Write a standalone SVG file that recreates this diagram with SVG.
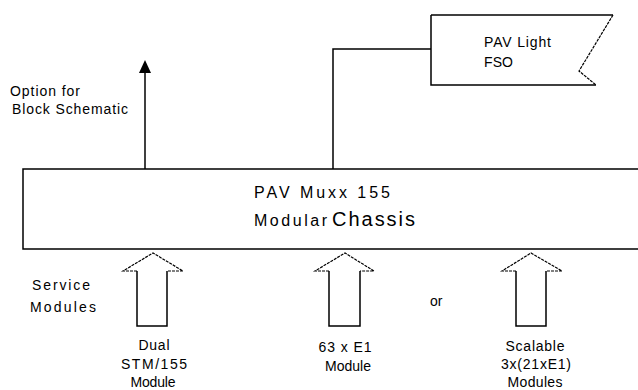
<svg xmlns="http://www.w3.org/2000/svg" width="638" height="390" viewBox="0 0 638 390">
<style>
.ln{fill:none;stroke:#000;stroke-width:1.5}
.hd{fill:none;stroke:#000;stroke-width:1.2;stroke-dasharray:3 1}
text{font-family:"Liberation Sans",Arial,sans-serif;fill:#000}
.s{font-size:14px}
.m{font-size:16px}
</style>
<rect width="638" height="390" fill="#fff"/>
<g id="connectors">
<path class="ln" d="M145,169 V70"/>
<path d="M145,60 L151,73 L139,73 Z" fill="#000"/>
<path class="ln" d="M333,169 V49 H431"/>
</g>
<g id="chassis">
<path class="ln" d="M640,169 H23 V249 H640"/>
<text class="m" x="254" y="198" textLength="136" lengthAdjust="spacing">PAV Muxx 155</text>
<text class="m" x="254" y="226" textLength="73" lengthAdjust="spacing">Modular</text>
<text x="332" y="226" font-size="20" textLength="83" lengthAdjust="spacing">Chassis</text>
</g>
<g id="fso">
<path class="ln" d="M431,15 H613"/>
<path class="hd" d="M613,15 L579,71 L596,85"/>
<path class="ln" d="M596,85 H431 V15"/>
<text class="s" x="484" y="47" textLength="67" lengthAdjust="spacing">PAV Light</text>
<text class="s" x="484" y="67" textLength="29" lengthAdjust="spacing">FSO</text>
</g>
<g id="option-label">
<text class="s" x="10" y="96" textLength="70" lengthAdjust="spacing">Option for</text>
<text class="s" x="12" y="114" textLength="116" lengthAdjust="spacing">Block Schematic</text>
</g>
<g id="service-label">
<text class="s" x="32" y="290" textLength="58" lengthAdjust="spacing">Service</text>
<text class="s" x="30" y="312" textLength="66" lengthAdjust="spacing">Modules</text>
</g>
<g id="dual-stm">
<path class="ln" d="M137,271 V326 H167 V271"/>
<path class="hd" d="M137,271 H123 L153,253 L183,271 H167"/>
<text class="s" x="154" y="350" text-anchor="middle" textLength="31" lengthAdjust="spacing">Dual</text>
<text class="s" x="154" y="369" text-anchor="middle" textLength="66" lengthAdjust="spacing">STM/155</text>
<text class="s" x="153" y="387" text-anchor="middle" textLength="45" lengthAdjust="spacing">Module</text>
</g>
<g id="e1-63">
<path class="ln" d="M329,271 V326 H360 V271"/>
<path class="hd" d="M329,271 H315 L345,253 L374,271 H360"/>
<text class="s" x="345" y="352" text-anchor="middle" textLength="53" lengthAdjust="spacing">63 x E1</text>
<text class="s" x="348" y="371" text-anchor="middle" textLength="46" lengthAdjust="spacing">Module</text>
</g>
<g id="or-label">
<text class="s" x="430" y="306">or</text>
</g>
<g id="scalable">
<path class="ln" d="M516,271 V326 H546 V271"/>
<path class="hd" d="M516,271 H502 L531,253 L562,271 H546"/>
<text class="s" x="535" y="351" text-anchor="middle" textLength="59" lengthAdjust="spacing">Scalable</text>
<text class="s" x="536" y="369" text-anchor="middle" textLength="70" lengthAdjust="spacing">3x(21xE1)</text>
<text class="s" x="535" y="387" text-anchor="middle" textLength="55" lengthAdjust="spacing">Modules</text>
</g>
</svg>
